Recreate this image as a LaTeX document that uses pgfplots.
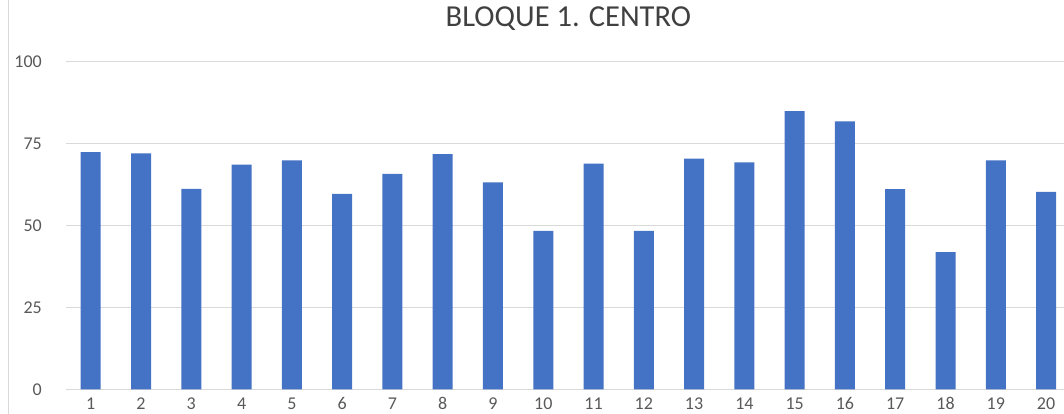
\documentclass[border=0pt]{standalone}
\usepackage{fontspec}
\setmainfont{Carlito}
\usepackage{pgfplots}
\usepackage{pgfplotstable}
\pgfplotsset{compat=1.18}

\definecolor{barblue}{HTML}{4472C4}
\definecolor{gridgray}{HTML}{D9D9D9}
\definecolor{txtgray}{HTML}{595959}
\definecolor{titlegray}{HTML}{404040}

% valores por pregunta (bloque 1, centro)
\pgfplotstableread{
n v
1 72.3
2 71.9
3 61.1
4 68.5
5 69.8
6 59.6
7 65.7
8 71.7
9 63.1
10 48.3
11 68.8
12 48.3
13 70.3
14 69.2
15 84.8
16 81.7
17 61.0
18 41.8
19 69.8
20 60.2
}\bloquedata

\begin{document}
\begin{tikzpicture}
\path[use as bounding box] (-65.6pt,-24.7pt) rectangle (998.4pt,389.3pt);
\draw[gridgray, line width=0.8pt] (-57.6pt,-24.7pt) -- (-57.6pt,389.3pt);
\begin{axis}[
    scale only axis,
    width=1005.6pt, height=328pt,
    xmin=0.5, xmax=20.5,
    ymin=0, ymax=100,
    xtick={1,...,20},
    ytick={0,25,50,75,100},
    ymajorgrids,
    grid style={gridgray, line width=1pt},
    axis line style={draw=none},
    major tick length=0pt,
    ybar, bar width=20pt,
    title={BLOQUE 1. CENTRO},
    title style={at={(0.5,1)}, anchor=base, yshift=28.8pt,
        font=\fontsize{30.5}{36}\selectfont, text=titlegray},
    tick label style={font=\fontsize{18}{21}\selectfont, text=txtgray},
    /pgf/number format/assume math mode=true,
    xticklabel style={anchor=base, inner sep=0pt, yshift=-20.7pt},
    yticklabel style={anchor=east, inner sep=0pt, xshift=-23.6pt},
]
\addplot[fill=barblue, draw=none] table[x=n, y=v] {\bloquedata};
\end{axis}
\end{tikzpicture}
\end{document}
